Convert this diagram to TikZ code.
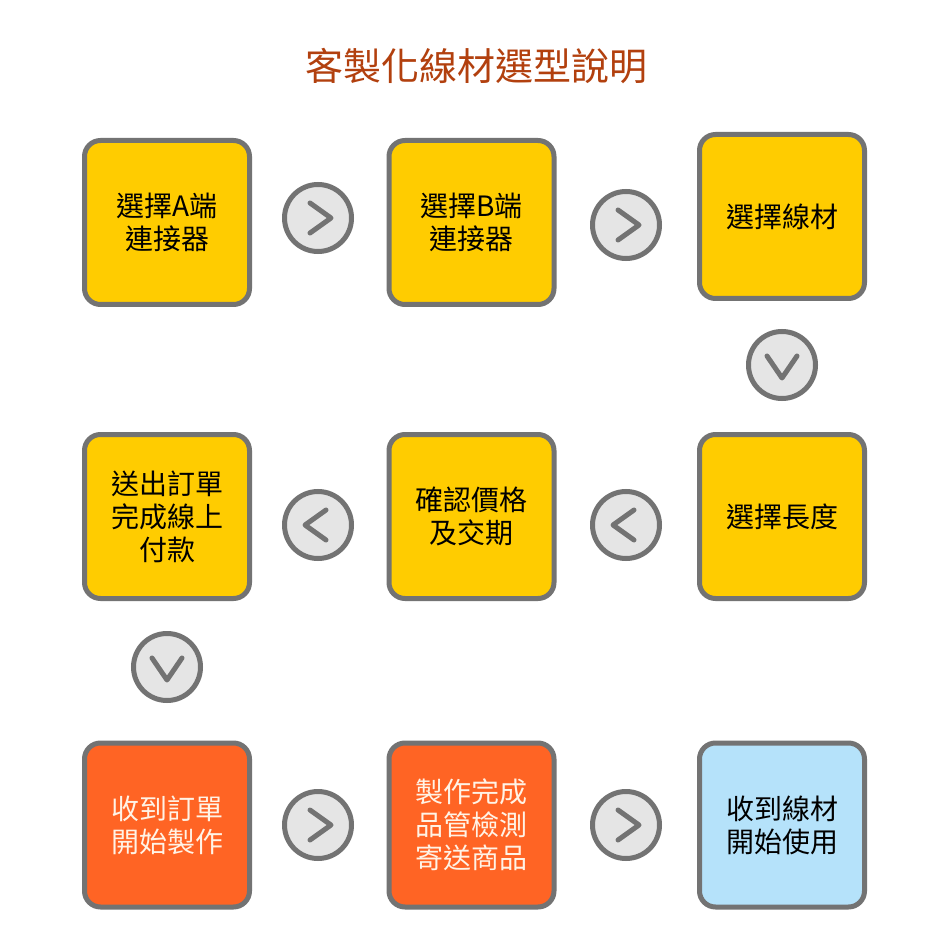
\documentclass[tikz,border=0pt]{standalone}
\usepackage{fontspec}
\newfontfamily\cjk{Noto Sans CJK TC}
\definecolor{boxgray}{HTML}{737373}
\definecolor{boxyellow}{HTML}{FFCC00}
\definecolor{boxorange}{HTML}{FF6424}
\definecolor{boxblue}{HTML}{B5E2FA}
\definecolor{circfill}{HTML}{E5E5E5}
\definecolor{titlecol}{HTML}{B2400E}
\definecolor{textlight}{HTML}{FFF3E6}
\newcommand\chevR[1]{\draw[chev] ([shift={(-8,-15)}]#1.center) -- ([shift={(13,0)}]#1.center) -- ([shift={(-8,15)}]#1.center);}
\newcommand\chevL[1]{\draw[chev] ([shift={(8,-15)}]#1.center) -- ([shift={(-13,0)}]#1.center) -- ([shift={(8,15)}]#1.center);}
\newcommand\chevD[1]{\draw[chev] ([shift={(-15,-9)}]#1.center) -- ([shift={(0,13)}]#1.center) -- ([shift={(15,-9)}]#1.center);}
\begin{document}
\begin{tikzpicture}[x=1pt,y=-1pt,
 box/.style={draw=boxgray, line width=5pt, rounded corners=16pt, minimum width=165pt, minimum height=164pt, inner sep=0pt, align=center, font=\cjk\fontsize{28}{33}\selectfont},
 ybox/.style={box, fill=boxyellow},
 obox/.style={box, fill=boxorange, text=textlight},
 bbox/.style={box, fill=boxblue},
 circ/.style={circle, draw=boxgray, fill=circfill, line width=5pt, minimum size=67pt, inner sep=0pt},
 chev/.style={draw=boxgray, line width=5pt, line cap=round, line join=round}]
\fill[white] (0,0) rectangle (950,949);
\useasboundingbox (0,0) rectangle (950,949);
\node[font=\cjk\fontsize{38}{42}\selectfont, text=titlecol] (title) at (476,66) {客製化線材選型說明};
\node[ybox] (b1) at (167,222.5) {選擇A端\\連接器};
\node[ybox] (b2) at (471.5,222.5) {選擇B端\\連接器};
\node[ybox] (b3) at (782,216.5) {選擇線材};
\node[ybox] (b4) at (167,516.5) {送出訂單\\完成線上\\付款};
\node[ybox] (b5) at (471.5,516.5) {確認價格\\及交期};
\node[ybox] (b6) at (782,516.5) {選擇長度};
\node[obox] (b7) at (167,825) {收到訂單\\開始製作};
\node[obox] (b8) at (471.5,825) {製作完成\\品管檢測\\寄送商品};
\node[bbox] (b9) at (782,825) {收到線材\\開始使用};
\node[circ] (c1) at (318,218) {};
\node[circ] (c2) at (626,225) {};
\node[circ] (c3) at (782,365) {};
\node[circ] (c4) at (318,525) {};
\node[circ] (c5) at (626,525) {};
\node[circ] (c6) at (167,667) {};
\node[circ] (c7) at (318,825) {};
\node[circ] (c8) at (626,825) {};
\chevR{c1}
\chevR{c2}
\chevD{c3}
\chevL{c4}
\chevL{c5}
\chevD{c6}
\chevR{c7}
\chevR{c8}
\end{tikzpicture}
\end{document}
